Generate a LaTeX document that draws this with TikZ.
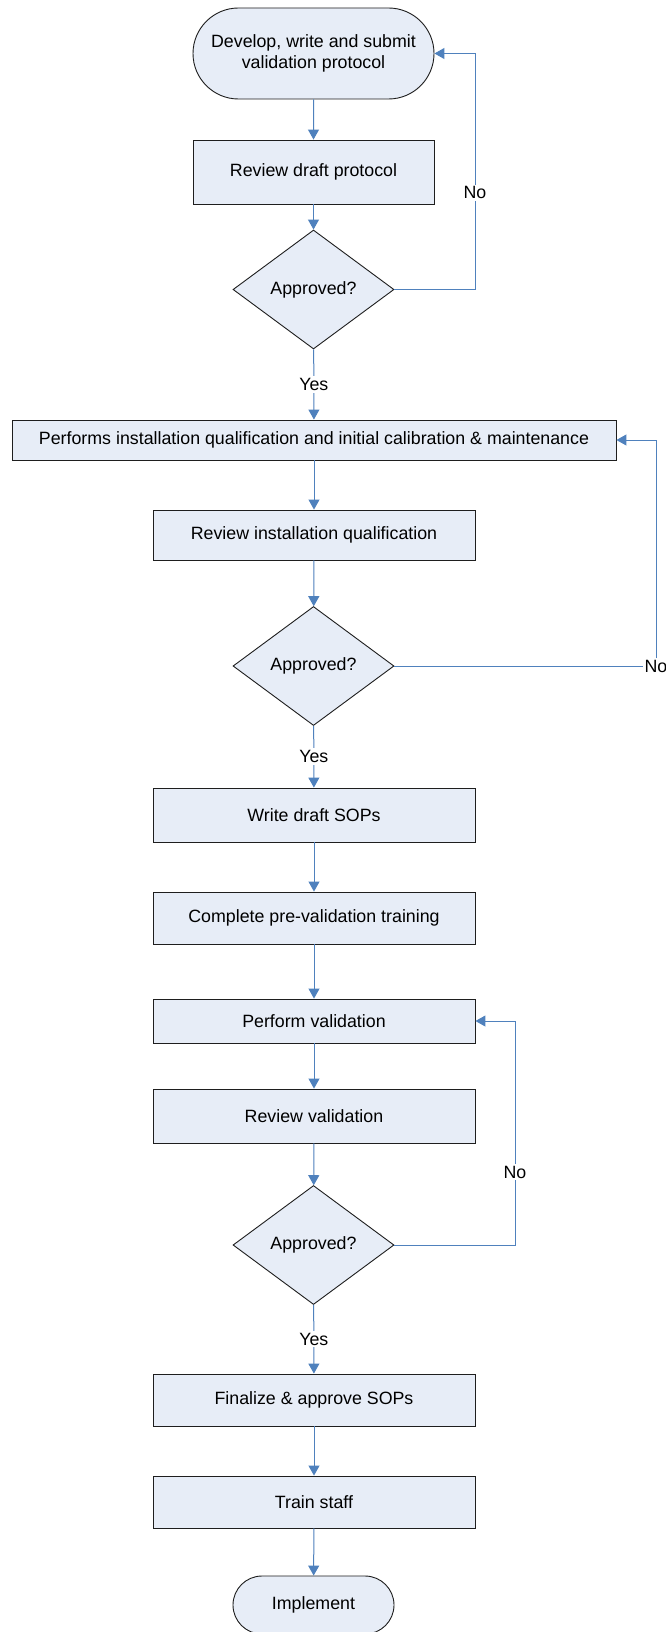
\documentclass[tikz,border=0pt]{standalone}
\usepackage{fontspec}
\setmainfont{Liberation Sans}
\usetikzlibrary{shapes.geometric,shapes.misc,arrows.meta}

\definecolor{boxfill}{RGB}{231,237,247}
\definecolor{boxline}{RGB}{30,30,30}
\definecolor{flowblue}{RGB}{79,129,189}

\tikzset{
  base/.style={draw=boxline, fill=boxfill, line width=0.9pt, inner sep=0pt,
    align=center, font=\fontsize{17.8}{21.5}\selectfont},
  stepbox/.style={base, rectangle, minimum width=#1, minimum height=52pt},
  stepbox/.default=322pt,
  terminal/.style={base, rounded rectangle},
  decision/.style={base, diamond, aspect=1.35, minimum width=161pt, minimum height=119pt},
  flow/.style={draw=flowblue, line width=1pt, -{Triangle[length=10pt,width=11pt]}},
  lbl/.style={fill=white, inner sep=2pt, font=\fontsize{17.8}{21.5}\selectfont}
}

\begin{document}
\begin{tikzpicture}[x=1pt, y=-1pt]
\clip (0,0) rectangle (666,1632);
\fill[white] (0,0) rectangle (666,1632);

% first review cycle
\node[terminal, minimum width=241pt, minimum height=91pt] (start) at (313.5,53.5)
  {Develop, write and submit\\validation protocol};
\node[stepbox=241pt, minimum height=64pt] (rdraft) at (313.5,172) {Review draft protocol};
\node[decision] (ok1) at (313.5,289.5) {Approved?};

% installation qualification cycle
\node[stepbox=604pt, minimum height=40pt] (iq) at (314,440)
  {Performs installation qualification and initial calibration \& maintenance};
\node[stepbox, minimum height=50pt] (riq) at (314,535) {Review installation qualification};
\node[decision] (ok2) at (313.5,666) {Approved?};

% SOPs and training
\node[stepbox, minimum height=54pt] (sop) at (314,815) {Write draft SOPs};
\node[stepbox] (train1) at (314,918) {Complete pre-validation training};

% validation cycle
\node[stepbox, minimum height=44pt] (pval) at (314,1021) {Perform validation};
\node[stepbox, minimum height=54pt] (rval) at (314,1116) {Review validation};
\node[decision] (ok3) at (313.5,1245) {Approved?};

% closing steps
\node[stepbox] (fin) at (314,1400) {Finalize \& approve SOPs};
\node[stepbox] (staff) at (314,1502) {Train staff};
\node[terminal, minimum width=161pt, minimum height=58pt] (impl) at (313.5,1605) {Implement};

% main flow
\draw[flow] (start) -- (rdraft);
\draw[flow] (rdraft) -- (ok1);
\draw[flow] (ok1) -- node[lbl]{Yes} (iq);
\draw[flow] (iq.south -| riq) -- (riq);
\draw[flow] (riq) -- (ok2);
\draw[flow] (ok2) -- node[lbl]{Yes} (sop);
\draw[flow] (sop) -- (train1);
\draw[flow] (train1) -- (pval);
\draw[flow] (pval) -- (rval);
\draw[flow] (rval) -- (ok3);
\draw[flow] (ok3) -- node[lbl]{Yes} (fin);
\draw[flow] (fin) -- (staff);
\draw[flow] (staff) -- (impl);

% rejection loops
\coordinate (n1) at (475,289.5);
\coordinate (n2) at (656,666);
\coordinate (n3) at (515,1245);
\draw[flow] (ok1.east) -- (n1) -- node[lbl, pos=0.41]{No} (n1 |- start.east) -- (start.east);
\draw[flow] (ok2.east) -- (n2) -- (n2 |- iq.east) -- (iq.east);
\node[lbl] (no2) at (n2) {No};
\draw[flow] (ok3.east) -- (n3) -- node[lbl, pos=0.326]{No} (n3 |- pval.east) -- (pval.east);
\end{tikzpicture}
\end{document}
